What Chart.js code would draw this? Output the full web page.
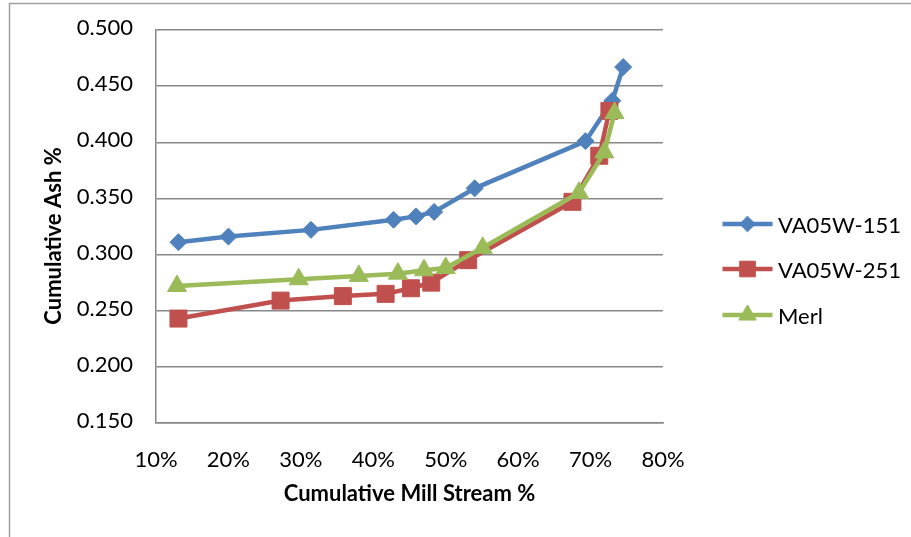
<!DOCTYPE html>
<html>
<head>
<meta charset="utf-8">
<script src="https://cdn.jsdelivr.net/npm/chart.js@4/dist/chart.umd.min.js"></script>
<style>
  html, body { margin: 0; padding: 0; background: #ffffff; }
  #wrap { width: 911px; height: 537px; position: relative; }
</style>
</head>
<body>
<div id="wrap"><canvas id="c" width="911" height="537"></canvas></div>
<script>
// Cumulative mill stream (%) vs cumulative ash (%) for three samples
const seriesNames = ['VA05W-151', 'VA05W-251', 'Merl'];

const va151Stream = [13.1, 20.0, 31.4, 42.8, 45.9, 48.4, 54.0, 69.3, 73.0, 74.5];
const va151Ash    = [0.311, 0.316, 0.322, 0.331, 0.334, 0.338, 0.359, 0.401, 0.437, 0.467];

const va251Stream = [13.1, 27.2, 35.8, 41.7, 45.2, 48.0, 53.1, 67.5, 71.2, 72.6];
const va251Ash    = [0.243, 0.259, 0.263, 0.265, 0.270, 0.275, 0.295, 0.347, 0.388, 0.428];

const merlStream  = [12.9, 29.7, 38.0, 43.4, 47.0, 50.0, 55.1, 68.4, 71.9, 73.3];
const merlAsh     = [0.272, 0.278, 0.281, 0.283, 0.286, 0.288, 0.306, 0.355, 0.391, 0.426];

const xTickValues = [10, 20, 30, 40, 50, 60, 70, 80];
const yTickValues = [0.150, 0.200, 0.250, 0.300, 0.350, 0.400, 0.450, 0.500];

const xTitle = 'Cumulative Mill Stream %';
const yTitle = 'Cumulative Ash %';

const FONT = 'Lato, "Open Sans", sans-serif';
const GRID = '#878787';

function toPoints(xs, ys) {
  return xs.map((x, i) => ({ x: x, y: ys[i] }));
}

const styles = [
  { color: '#4F81BD', pointStyle: 'rectRot', radius: 8.5, order: 3 },
  { color: '#C0504D', pointStyle: 'rect', radius: 12, order: 2 },
  { color: '#9BBB59', pointStyle: 'triangle', radius: 11, order: 1 }
];
const seriesData = [
  toPoints(va151Stream, va151Ash),
  toPoints(va251Stream, va251Ash),
  toPoints(merlStream, merlAsh)
];

const datasets = seriesNames.map((name, i) => ({
  label: name,
  data: seriesData[i],
  borderColor: styles[i].color,
  backgroundColor: styles[i].color,
  pointBackgroundColor: styles[i].color,
  pointBorderColor: styles[i].color,
  pointBorderWidth: 1,
  pointStyle: styles[i].pointStyle,
  pointRadius: styles[i].radius,
  pointHoverRadius: styles[i].radius,
  borderWidth: 4.5,
  tension: 0,
  fill: false,
  order: styles[i].order
}));

// Frame, axis titles and the line-and-marker legend on the right
const decorations = {
  id: 'decorations',
  beforeDraw(chart) {
    const ctx = chart.ctx;
    ctx.save();
    ctx.fillStyle = '#ffffff';
    ctx.fillRect(0, 0, chart.width, chart.height);
    ctx.strokeStyle = '#a0a0a0';
    ctx.lineWidth = 1.5;
    ctx.beginPath();
    ctx.moveTo(9.5, chart.height);
    ctx.lineTo(9.5, 3.5);
    ctx.lineTo(chart.width, 3.5);
    ctx.stroke();
    ctx.restore();
  },
  afterDraw(chart) {
    const ctx = chart.ctx;
    const area = chart.chartArea;
    ctx.save();
    ctx.fillStyle = '#000000';
    ctx.font = 'bold 22px ' + FONT;
    ctx.textAlign = 'center';
    ctx.textBaseline = 'middle';
    ctx.fillText(xTitle, (area.left + area.right) / 2, 494);
    ctx.translate(54, 236);
    ctx.rotate(-Math.PI / 2);
    ctx.fillText(yTitle, 0, 0);
    ctx.restore();

    const rows = [224, 269, 315];
    chart.data.datasets.forEach((ds, i) => {
      const y = rows[i];
      ctx.save();
      ctx.strokeStyle = ds.borderColor;
      ctx.lineWidth = ds.borderWidth;
      ctx.beginPath();
      ctx.moveTo(722.5, y);
      ctx.lineTo(772.5, y);
      ctx.stroke();
      ctx.fillStyle = ds.pointBackgroundColor;
      ctx.strokeStyle = ds.pointBorderColor;
      ctx.lineWidth = 1;
      Chart.helpers.drawPoint(ctx, {
        pointStyle: ds.pointStyle,
        radius: ds.pointRadius * 0.92,
        rotation: 0,
        borderWidth: 1
      }, 747.5, y);
      ctx.fillStyle = '#000000';
      ctx.font = '22px ' + FONT;
      ctx.textAlign = 'left';
      ctx.textBaseline = 'middle';
      ctx.fillText(ds.label, 778, y + 2);
      ctx.restore();
    });
  }
};

new Chart(document.getElementById('c'), {
  type: 'line',
  data: { datasets: datasets },
  plugins: [decorations],
  options: {
    responsive: false,
    animation: false,
    events: [],
    layout: { padding: { top: 30, right: 248, left: 0, bottom: 0 } },
    plugins: {
      legend: { display: false },
      tooltip: { enabled: false }
    },
    scales: {
      x: {
        type: 'linear',
        min: xTickValues[0],
        max: xTickValues[xTickValues.length - 1],
        afterBuildTicks(scale) { scale.ticks = xTickValues.map(v => ({ value: v })); },
        afterFit(scale) { scale.height = 114; },
        grid: { display: false, drawTicks: false },
        border: { display: true, color: GRID, width: 1.5 },
        ticks: {
          padding: 24,
          color: '#000000',
          font: { family: FONT, size: 22 },
          maxRotation: 0,
          callback: v => v + '%'
        }
      },
      y: {
        type: 'linear',
        min: yTickValues[0],
        max: yTickValues[yTickValues.length - 1],
        afterBuildTicks(scale) { scale.ticks = yTickValues.map(v => ({ value: v })); },
        afterFit(scale) {
          scale.width = 156;
          scale.paddingTop = 0;
          scale.paddingBottom = 0;
        },
        grid: { color: GRID, lineWidth: 1.5, drawTicks: false },
        border: { display: true, color: GRID, width: 1.5 },
        ticks: {
          padding: 23,
          labelOffset: -2,
          color: '#000000',
          font: { family: FONT, size: 22 },
          callback: v => Number(v).toFixed(3)
        }
      }
    }
  }
});
</script>
</body>
</html>
